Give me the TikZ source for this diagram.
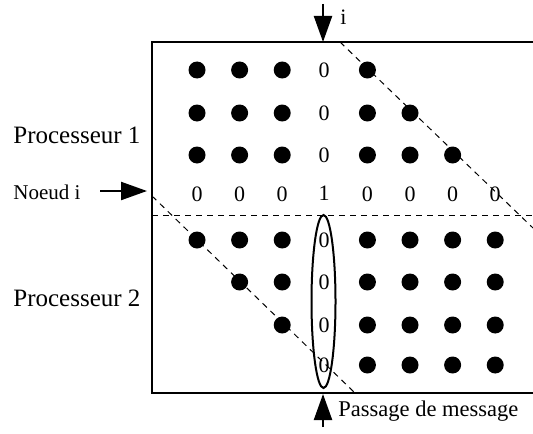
\documentclass[tikz,border=0pt]{standalone}
\usepackage{fontspec}
\setmainfont{Liberation Serif}
\usetikzlibrary{arrows.meta}

\begin{document}
\begin{tikzpicture}[x=0.5pt,y=-0.5pt,
    dot/.style={circle,fill,inner sep=0pt,minimum size=8.5pt},
    val/.style={inner sep=0pt,font=\fontsize{11}{13}\selectfont},
    flow/.style={-{Triangle[length=13pt,width=9pt]},line width=1.1pt},
    cut/.style={dash pattern=on 3pt off 2.5pt,line width=0.5pt}]
    \def\rowy{{0,70,113,155,195,240,282,325,365}}
    \useasboundingbox (0,0) rectangle (533,433);
    \draw[line width=1.1pt] (533,42) -- (152,42) -- (152,393) -- (533,393);
    \foreach \r/\cols in {1/{1,2,3,5},2/{1,2,3,5,6},3/{1,2,3,5,6,7},5/{1,2,3,5,6,7,8},6/{2,3,5,6,7,8},7/{3,5,6,7,8},8/{5,6,7,8}}
        \foreach \c in \cols
            \node[dot] (p\c-\r) at ({197+42.6*(\c-1)},{\rowy[\r]}) {};
    \foreach \r in {1,2,3,5,6,7,8}
        \node[val] (z4-\r) at (324,{\rowy[\r]}) {0};
    \foreach \c in {1,2,3,5,6,7,8}
        \node[val] (z\c-4) at ({197+42.6*(\c-1)},194) {0};
    \node[val] (z4-4) at (324,193) {1};
    \draw[cut] (152,215) -- (533,215);
    \draw[cut] (340,42) -- (533,228);
    \draw[cut] (152,196) -- (355,393);
    \draw[line width=1pt] (323.5,301.5) ellipse [x radius=6pt,y radius=43.25pt];
    \coordinate (itop) at (323,4);
    \coordinate (ientry) at (323,42);
    \draw[flow] (itop) -- (ientry);
    \node[anchor=base west,inner sep=0pt,font=\fontsize{11}{13}\selectfont] (ilab) at (340,25) {i};
    \coordinate (msgstart) at (323,427);
    \coordinate (msgend) at (323,394);
    \draw[flow] (msgstart) -- (msgend);
    \node[anchor=base west,inner sep=0pt,font=\fontsize{11.25}{13}\selectfont] (msg) at (338,416) {Passage de message};
    \node[anchor=base west,inner sep=0pt,font=\fontsize{12.5}{15}\selectfont] (proc1) at (13,143) {Processeur 1};
    \node[anchor=base west,inner sep=0pt,font=\fontsize{12.5}{15}\selectfont] (proc2) at (13,306) {Processeur 2};
    \node[anchor=base west,inner sep=0pt,font=\fontsize{10.5}{13}\selectfont] (noeud) at (13,199) {Noeud i};
    \coordinate (nstart) at (100,191);
    \coordinate (nend) at (147,191);
    \draw[flow] (nstart) -- (nend);
\end{tikzpicture}
\end{document}
